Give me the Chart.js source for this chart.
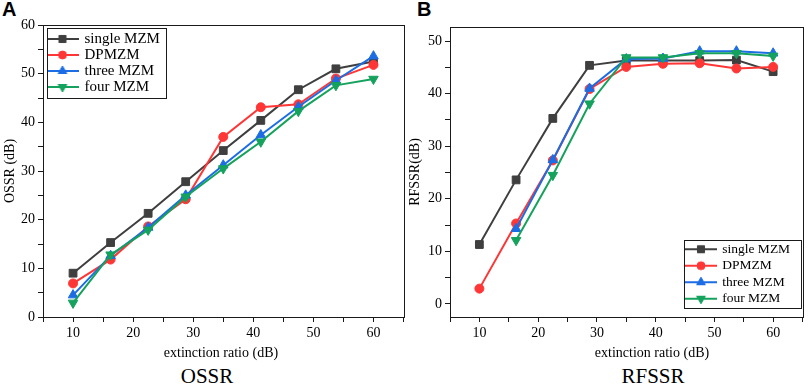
<!DOCTYPE html>
<html lang="en">
<head>
<meta charset="UTF-8">
<title>OSSR / RFSSR vs extinction ratio</title>
<script src="https://cdn.jsdelivr.net/npm/chart.js@4.4.1/dist/chart.umd.min.js"></script>
<style>
  html, body { margin: 0; padding: 0; background: #fff; }
  body { width: 809px; height: 385px; position: relative; overflow: hidden; }
  canvas { position: absolute; top: 0; }
  #chartA { left: 0; }
  #chartB { left: 405px; }
  .lbl { position: absolute; font-family: 'Liberation Serif', 'Times New Roman', serif; color: #000; line-height: 1; white-space: nowrap; }
  .mid { transform: translateX(-50%); }
  .panel { font-family: 'Liberation Sans', Arial, sans-serif; font-weight: bold; font-size: 20px; }
</style>
</head>
<body>
<div class="lbl panel" style="left:2px;top:-1px">A</div>
<div class="lbl panel" style="left:417px;top:-1px">B</div>
<canvas id="chartA" width="410" height="347"></canvas>
<canvas id="chartB" width="404" height="347"></canvas>
<div class="lbl mid" style="left:221px;top:346px;font-size:14px">extinction ratio (dB)</div>
<div class="lbl mid" style="left:652px;top:346px;font-size:14px">extinction ratio (dB)</div>
<div class="lbl mid" style="left:207px;top:366px;font-size:21px">OSSR</div>
<div class="lbl mid" style="left:653px;top:366px;font-size:21px">RFSSR</div>

<script>
// extinction ratio (dB) on the x axis, same for both panels
const extinction = [10, 16.25, 22.5, 28.75, 35, 41.25, 47.5, 53.75, 60];
const seriesNames = ['single MZM', 'DPMZM', 'three MZM', 'four MZM'];

// panel A: OSSR (dB)
const ossrSingle = [9.0, 15.3, 21.3, 27.8, 34.2, 40.4, 46.7, 51.0, 52.5];
const ossrDP     = [6.9, 11.8, 18.6, 24.2, 37.0, 43.1, 43.7, 49.0, 51.8];
const ossrThree  = [4.5, 12.6, 18.4, 25.0, 31.2, 37.4, 43.2, 48.6, 53.6];
const ossrFour   = [2.9, 12.8, 17.9, 24.7, 30.5, 36.0, 42.3, 47.6, 48.9];

// panel B: RFSSR (dB), three/four MZM have no point at 10 dB
const rfssrSingle = [11.3, 23.6, 35.3, 45.4, 46.3, 46.3, 46.3, 46.4, 44.2];
const rfssrDP     = [2.9, 15.3, 27.3, 40.9, 45.1, 45.7, 45.8, 44.8, 45.1];
const rfssrThree  = [null, 14.3, 27.4, 41.0, 46.6, 46.7, 48.1, 48.1, 47.7];
const rfssrFour   = [null, 12.1, 24.5, 38.1, 46.9, 46.9, 47.7, 47.7, 47.2];

const lineColors = ['#3f3f3f', '#ff3636', '#1c6de4', '#14a25c'];
const markers = [
    { style: 'rect', radius: 5.5, rotation: 0 },
    { style: 'circle', radius: 4.5, rotation: 0 },
    { style: 'triangle', radius: 5.5, rotation: 0 },
    { style: 'triangle', radius: 5.5, rotation: 180 }
];

const serif = "'Liberation Serif', 'Times New Roman', serif";
const axisColor = '#1a1a1a';

function points(values) {
    return values
        .map((v, i) => ({ x: extinction[i], y: v }))
        .filter(p => p.y !== null);
}

function makeDatasets(seriesValues) {
    return seriesValues.map((vals, i) => ({
        label: seriesNames[i],
        data: points(vals),
        borderColor: lineColors[i],
        backgroundColor: lineColors[i],
        borderWidth: 2,
        tension: 0,
        pointStyle: markers[i].style,
        pointRadius: markers[i].radius,
        pointRotation: markers[i].rotation,
        pointBorderWidth: 1,
        pointBackgroundColor: lineColors[i],
        pointBorderColor: lineColors[i],
        order: seriesNames.length - i // later series drawn on top
    }));
}

// legend sample: short line with the marker in the middle
function swatch(ds, w) {
    const c = document.createElement('canvas');
    c.width = w;
    c.height = 14;
    const ctx = c.getContext('2d');
    ctx.strokeStyle = ds.borderColor;
    ctx.lineWidth = 2;
    ctx.beginPath();
    ctx.moveTo(0, 7);
    ctx.lineTo(w, 7);
    ctx.stroke();
    ctx.fillStyle = ds.pointBackgroundColor;
    ctx.lineWidth = 1;
    const opts = { pointStyle: ds.pointStyle, radius: ds.pointRadius - 0.5, rotation: ds.pointRotation, borderWidth: 1 };
    if (Chart.helpers && Chart.helpers.drawPoint) {
        Chart.helpers.drawPoint(ctx, opts, w / 2, 7);
    } else {
        ctx.beginPath();
        ctx.arc(w / 2, 7, 4, 0, Math.PI * 2);
        ctx.fill();
    }
    return c;
}

// puts the legend at a fixed spot inside the plot and draws the plot/legend frames
const framePlugin = {
    id: 'frames',
    afterLayout(chart, args, opts) {
        const lg = chart.legend;
        if (!lg) return;
        lg.left = opts.at[0];
        lg.top = opts.at[1];
        lg.right = lg.left + opts.box[2];
        lg.bottom = lg.top + 200;
    },
    beforeDatasetsDraw(chart, args, opts) {
        const { ctx, chartArea: a } = chart;
        ctx.save();
        ctx.strokeStyle = axisColor;
        ctx.lineWidth = 1;
        ctx.strokeRect(Math.round(a.left) + 0.5, Math.round(a.top) + 0.5,
            Math.round(a.right - a.left), Math.round(a.bottom - a.top));
        const b = opts.box;
        ctx.strokeRect(b[0] + 0.5, b[1] + 0.5, b[2], b[3]);
        ctx.restore();
    }
};

function makeChart(id, seriesValues, cfg) {
    const datasets = makeDatasets(seriesValues);
    return new Chart(document.getElementById(id), {
        type: 'line',
        data: { datasets },
        plugins: [framePlugin],
        options: {
            responsive: false,
            devicePixelRatio: 1,
            animation: false,
            events: [],
            layout: { padding: cfg.padding },
            plugins: {
                tooltip: { enabled: false },
                title: { display: false },
                legend: {
                    position: 'chartArea',
                    align: 'start',
                    labels: {
                        usePointStyle: true,
                        pointStyleWidth: 29,
                        padding: cfg.legendPadding,
                        color: '#000',
                        font: { family: serif, size: cfg.legendFont },
                        generateLabels: chart => chart.data.datasets.map((ds, i) => ({
                            text: ds.label,
                            pointStyle: swatch(ds, 32),
                            fillStyle: ds.backgroundColor,
                            strokeStyle: ds.borderColor,
                            lineWidth: 0,
                            fontColor: '#000',
                            hidden: false,
                            datasetIndex: i
                        }))
                    }
                },
                frames: { at: cfg.legendAt, box: cfg.legendBox }
            },
            scales: {
                x: {
                    type: 'linear',
                    min: 5,
                    max: 65,
                    grid: { drawOnChartArea: false, drawTicks: true, tickLength: 5, tickColor: axisColor },
                    border: { display: true, color: axisColor, width: 1 },
                    ticks: {
                        stepSize: 5,
                        autoSkip: false,
                        maxRotation: 0,
                        padding: 3,
                        color: '#000',
                        font: { family: serif, size: 14 },
                        callback: v => (v % 10 === 0 ? String(v) : '')
                    },
                    afterFit: s => { s.height = 30; }
                },
                y: {
                    type: 'linear',
                    min: cfg.yMin,
                    max: cfg.yMax,
                    grid: { drawOnChartArea: false, drawTicks: true, tickLength: 5, tickColor: axisColor },
                    border: { display: true, color: axisColor, width: 1 },
                    ticks: {
                        stepSize: 5,
                        includeBounds: false,
                        padding: 3,
                        color: '#000',
                        font: { family: serif, size: 14 },
                        callback: v => (v % 10 === 0 ? String(v) : '')
                    },
                    title: {
                        display: true,
                        text: cfg.yTitle,
                        color: '#000',
                        font: { family: serif, size: 14 },
                        padding: { top: 2, bottom: 0 }
                    },
                    afterFit: s => { s.width = cfg.yWidth; }
                }
            }
        }
    });
}

makeChart('chartA', [ossrSingle, ossrDP, ossrThree, ossrFour], {
    padding: { top: 25, right: 4, bottom: 0, left: 0 },
    yWidth: 43,
    yMin: 0,
    yMax: 60,
    yTitle: 'OSSR (dB)',
    legendFont: 15,
    legendPadding: 1,
    legendAt: [47, 30.5],
    legendBox: [47, 28, 119, 70]
});

makeChart('chartB', [rfssrSingle, rfssrDP, rfssrThree, rfssrFour], {
    padding: { top: 27, right: 1, bottom: 0, left: 0 },
    yWidth: 45,
    yMin: -2.5,
    yMax: 52.7,
    yTitle: 'RFSSR(dB)',
    legendFont: 13.5,
    legendPadding: 3,
    legendAt: [278.5, 239.5],
    legendBox: [279, 240, 117, 68]
});
</script>
</body>
</html>
